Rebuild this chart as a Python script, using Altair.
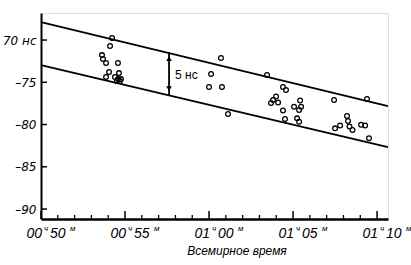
import altair as alt
import pandas as pd

# ---- data ----
# time in minutes after 00h (x), delay in ns (y)
t_min = [54.23, 54.11, 53.63, 53.69, 53.87, 54.58, 54.05, 54.64, 53.87, 54.40,
         54.58, 54.76, 54.52, 54.70,
         60.71, 60.12, 60.00, 60.77, 61.13,
         63.45, 64.40, 64.58, 63.99, 63.81, 63.69, 64.11, 64.40, 65.42, 65.06,
         65.48, 65.36, 64.52, 65.24, 65.36,
         67.44, 69.40, 68.21, 68.27, 67.50, 67.80, 68.36, 68.54, 69.05, 69.29,
         69.52]
delay_ns = [-69.76, -70.71, -71.78, -72.25, -72.72, -72.72, -73.79, -73.91, -74.38, -74.38,
            -74.62, -74.62, -74.85, -74.85,
            -72.13, -74.02, -75.56, -75.56, -78.76,
            -74.14, -75.56, -75.92, -76.69, -77.10, -77.46, -77.40, -78.34, -77.16, -77.89,
            -77.89, -78.28, -79.35, -79.27, -79.67,
            -77.10, -76.98, -78.99, -79.59, -80.45, -80.12, -80.24, -80.65, -80.02, -80.12,
            -81.63]

# band boundary lines (end points)
line_t = [50.0, 70.65]
upper_v = [-67.87, -77.81]
lower_v = [-72.96, -82.66]

# 5 ns annotation
arrow_t = [57.62]
arrow_top = [-71.42]
arrow_bot = [-76.51]
head_v = [-72.2, -75.75]
head_shape = ["triangle-up", "triangle-down"]
band_label = ["5 нс"]
band_label_t = [57.98]
band_label_v = [-74.14]

# axes
y_ticks = [-70, -75, -80, -85, -90]
x_major = [50, 55, 60, 65, 70]
x_minor = [m for m in range(50, 71) if m % 5 != 0]
hour_lab = ["00", "00", "01", "01", "01"]
min_lab = ["50", "55", "00", "05", "10"]
x_title = "Всемирное время"

xs = alt.Scale(domain=[50, 70.65], nice=False, zero=False)
ys = alt.Scale(domain=[-91.18, -66.8], nice=False, zero=False)

pts = pd.DataFrame({"t": t_min, "v": delay_ns})
lines = pd.DataFrame({
    "t": line_t * 2,
    "v": upper_v + lower_v,
    "g": ["upper"] * 2 + ["lower"] * 2,
})
arrow = pd.DataFrame({"t": arrow_t, "v1": arrow_top, "v2": arrow_bot})
heads = pd.DataFrame({"t": arrow_t * 2, "v": head_v, "s": head_shape})
blab = pd.DataFrame({"t": band_label_t, "v": band_label_v, "txt": band_label})
yt = pd.DataFrame({"v": y_ticks})
xmaj = pd.DataFrame({"t": x_major, "h": hour_lab, "m": min_lab})
xmin = pd.DataFrame({"t": x_minor})

FONT = "Liberation Sans"

points = alt.Chart(pts).mark_point(
    shape="circle", filled=False, color="black", size=22, strokeWidth=1.3, opacity=1
).encode(
    x=alt.X("t:Q", scale=xs,
            axis=alt.Axis(title=None, labels=False, ticks=False, grid=False,
                          domainColor="black", domainWidth=2.5)),
    y=alt.Y("v:Q", scale=ys,
            axis=alt.Axis(title=None, values=y_ticks, ticks=False, grid=False,
                          domainColor="black", domainWidth=2,
                          labelExpr="datum.value == -70 ? '70 нс' : '–' + abs(datum.value)",
                          labelFont="DejaVu Sans", labelFontStyle="italic",
                          labelFontSize=12, labelColor="black", labelPadding=5)),
)

band = alt.Chart(lines).mark_line(color="black", strokeWidth=1.8).encode(
    x=alt.X("t:Q", scale=xs), y=alt.Y("v:Q", scale=ys), detail="g:N"
)

arrow_rule = alt.Chart(arrow).mark_rule(color="black", strokeWidth=1.8).encode(
    x=alt.X("t:Q", scale=xs), y=alt.Y("v1:Q", scale=ys), y2="v2:Q"
)

arrow_heads = alt.Chart(heads).mark_point(filled=True, color="black", size=32, opacity=1).encode(
    x=alt.X("t:Q", scale=xs), y=alt.Y("v:Q", scale=ys),
    shape=alt.Shape("s:N", scale=None),
)

band_text = alt.Chart(blab).mark_text(
    align="left", baseline="middle", font=FONT, fontSize=12, color="black"
).encode(x=alt.X("t:Q", scale=xs), y=alt.Y("v:Q", scale=ys), text="txt:N")

ytick_marks = alt.Chart(yt).mark_rule(color="black", strokeWidth=1.5).encode(
    y=alt.Y("v:Q", scale=ys), x=alt.value(0), x2=alt.value(6)
)

xmaj_ticks = alt.Chart(xmaj).mark_rule(color="black", strokeWidth=1.5).encode(
    x=alt.X("t:Q", scale=xs), y=alt.value(206), y2=alt.value(198)
)
xmin_ticks = alt.Chart(xmin).mark_rule(color="black", strokeWidth=1.3).encode(
    x=alt.X("t:Q", scale=xs), y=alt.value(206), y2=alt.value(202)
)

hours_txt = alt.Chart(xmaj).mark_text(
    align="right", baseline="alphabetic", dx=1, font=FONT, fontStyle="italic",
    fontSize=14, color="black"
).encode(x=alt.X("t:Q", scale=xs), y=alt.value(225), text="h:N")
ch_txt = alt.Chart(xmaj).mark_text(
    align="center", baseline="alphabetic", dx=5, font=FONT, fontStyle="italic",
    fontSize=8, color="black", text="ч"
).encode(x=alt.X("t:Q", scale=xs), y=alt.value(218))
mins_txt = alt.Chart(xmaj).mark_text(
    align="left", baseline="alphabetic", dx=9, font=FONT, fontStyle="italic",
    fontSize=14, color="black"
).encode(x=alt.X("t:Q", scale=xs), y=alt.value(225), text="m:N")
m_txt = alt.Chart(xmaj).mark_text(
    align="left", baseline="alphabetic", dx=29, font=FONT, fontStyle="italic",
    fontSize=8, color="black", text="м"
).encode(x=alt.X("t:Q", scale=xs), y=alt.value(218))

title_txt = alt.Chart(pd.DataFrame({"txt": [x_title]})).mark_text(
    align="center", baseline="alphabetic", font=FONT, fontStyle="italic",
    fontSize=12, color="black"
).encode(x=alt.value(196), y=alt.value(242), text="txt:N")

chart = alt.layer(
    band, arrow_rule, arrow_heads, points, band_text, ytick_marks,
    xmaj_ticks, xmin_ticks, hours_txt, ch_txt, mins_txt, m_txt, title_txt
).properties(
    width=347, height=206,
    autosize=alt.AutoSizeParams(type="none"),
    padding={"left": 41, "top": 13, "right": 23, "bottom": 46},
).configure_view(stroke=None).configure(background="white")

chart.save("out.html", embed_options={"renderer": "svg", "actions": False})
